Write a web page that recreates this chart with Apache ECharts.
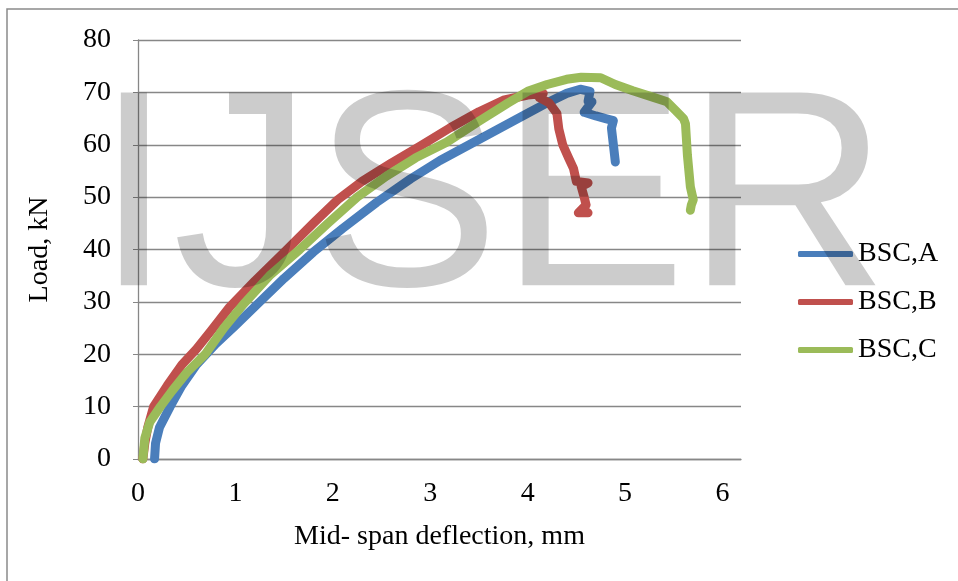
<!DOCTYPE html>
<html>
<head>
<meta charset="utf-8">
<title>Load - deflection</title>
<script src="https://cdn.jsdelivr.net/npm/echarts@6/dist/echarts.min.js"></script>
<style>
    html, body { margin: 0; padding: 0; background: #fff; }
    #drawChartBox { width: 958px; height: 581px; }
</style>
</head>
<body>
<div id="drawChartBox"></div>
<script>
// series names (legend)
const seriesNames = ['BSC,A', 'BSC,B', 'BSC,C'];
const seriesColors = ['#4a7ebb', '#c0504d', '#9bbb59'];

// [deflection mm, load kN]
const bscA = [
    [0.17, 0], [0.18, 3], [0.22, 6], [0.33, 10], [0.45, 14], [0.6, 18], [0.8, 22],
    [1.0, 25.5], [1.25, 30], [1.5, 34.5], [1.8, 39.5], [2.1, 44], [2.45, 49],
    [2.8, 53.5], [3.1, 57], [3.4, 60], [3.7, 63], [4.0, 66], [4.2, 68], [4.4, 69.8],
    [4.54, 70.6], [4.64, 70.2], [4.62, 68.3], [4.66, 68.2], [4.58, 66.2], [4.7, 65.5],
    [4.8, 65], [4.88, 64.6], [4.86, 63.2], [4.88, 60], [4.9, 56.7]
];
const bscB = [
    [0.05, 0], [0.07, 3], [0.1, 6], [0.16, 10], [0.3, 14], [0.45, 18], [0.6, 21],
    [0.75, 24.5], [0.94, 29], [1.2, 34], [1.53, 40], [1.8, 45], [2.05, 49.5],
    [2.3, 53], [2.6, 56.5], [2.9, 59.8], [3.2, 63.2], [3.5, 66.3], [3.75, 68.5],
    [4.0, 69.5], [4.16, 69.8], [4.12, 69], [4.22, 68], [4.3, 66], [4.32, 63],
    [4.36, 60], [4.42, 57.5], [4.47, 55.5], [4.5, 53], [4.62, 52.7], [4.55, 52],
    [4.58, 50], [4.6, 48.5], [4.52, 47], [4.62, 47]
];
const bscC = [
    [0.05, 0], [0.07, 4], [0.12, 7], [0.23, 10], [0.35, 13], [0.5, 16.5], [0.69, 20],
    [0.88, 25], [1.08, 29.5], [1.35, 35], [1.66, 40], [1.95, 45], [2.25, 50],
    [2.55, 54], [2.85, 57.5], [3.17, 60.5], [3.5, 64.5], [3.8, 68], [4.0, 70.2],
    [4.2, 71.5], [4.4, 72.5], [4.55, 72.9], [4.75, 72.8], [4.9, 71.5], [5.08, 70.3],
    [5.3, 69], [5.43, 68.2], [5.52, 66.5], [5.6, 65], [5.62, 64], [5.64, 58],
    [5.67, 52], [5.7, 49.5], [5.68, 48.5], [5.67, 47.5]
];
const seriesData = [bscA, bscB, bscC];

// axes
const xTitle = 'Mid- span deflection, mm';
const yTitle = 'Load, kN';
const xMin = 0, xMax = 6.19, xStep = 1;
const yMin = 0, yMax = 80, yStep = 10;
const watermark = 'IJSER';

const serif = '"Liberation Serif", "Times New Roman", serif';
const gridColor = '#878787';

let myChart = echarts.init(document.getElementById('drawChartBox'), null, { renderer: 'canvas' });

let option = {
    animation: false,
    backgroundColor: '#fff',
    grid: {
        left: 138,
        top: 40,
        right: 217,
        bottom: 122
    },
    legend: {
        orient: 'vertical',
        left: 793,
        top: 235,
        icon: 'roundRect',
        itemWidth: 55,
        itemHeight: 6,
        itemGap: 20,
        data: seriesNames,
        textStyle: {
            fontFamily: serif,
            fontSize: 28,
            color: '#000'
        }
    },
    xAxis: {
        type: 'value',
        min: xMin,
        max: xMax,
        interval: xStep,
        name: xTitle,
        nameLocation: 'middle',
        nameGap: 64,
        nameTextStyle: { fontFamily: serif, fontSize: 28, color: '#000' },
        axisLine: { show: true, lineStyle: { color: gridColor, width: 1.3 } },
        axisTick: { show: false },
        splitLine: { show: false },
        axisLabel: {
            margin: 21,
            fontFamily: serif,
            fontSize: 28,
            color: '#000',
            formatter: function (v) {
                return Number.isInteger(v) ? String(v) : '';
            }
        }
    },
    yAxis: {
        type: 'value',
        min: yMin,
        max: yMax,
        interval: yStep,
        name: yTitle,
        nameLocation: 'middle',
        nameGap: 84,
        nameTextStyle: { fontFamily: serif, fontSize: 28, color: '#000' },
        axisLine: { show: true, lineStyle: { color: gridColor, width: 1.3 } },
        axisTick: { show: true, length: 5, lineStyle: { color: gridColor } },
        splitLine: { show: true, lineStyle: { color: gridColor, width: 1.3 } },
        axisLabel: {
            margin: 27,
            fontFamily: serif,
            fontSize: 28,
            color: '#000'
        }
    },
    series: seriesNames.map(function (name, i) {
        return {
            name: name,
            type: 'line',
            data: seriesData[i],
            showSymbol: false,
            smooth: false,
            color: seriesColors[i],
            lineStyle: { width: 9, color: seriesColors[i], cap: 'round', join: 'round' }
        };
    }),
    graphic: [
        {
            // outer frame of the picture
            type: 'rect',
            z: -10,
            shape: { x: 7, y: 9, width: 1200, height: 1200 },
            style: { fill: 'none', stroke: '#8a8a8a', lineWidth: 1.5 }
        },
        {
            // watermark over the chart
            type: 'text',
            z: 100,
            silent: true,
            style: {
                text: watermark,
                x: 95,
                y: 208,
                align: 'left',
                verticalAlign: 'middle',
                font: '280px "Liberation Sans", Arial, sans-serif',
                fill: 'rgba(0,0,0,0.2)'
            }
        }
    ]
};
myChart.setOption(option);
</script>
</body>
</html>
